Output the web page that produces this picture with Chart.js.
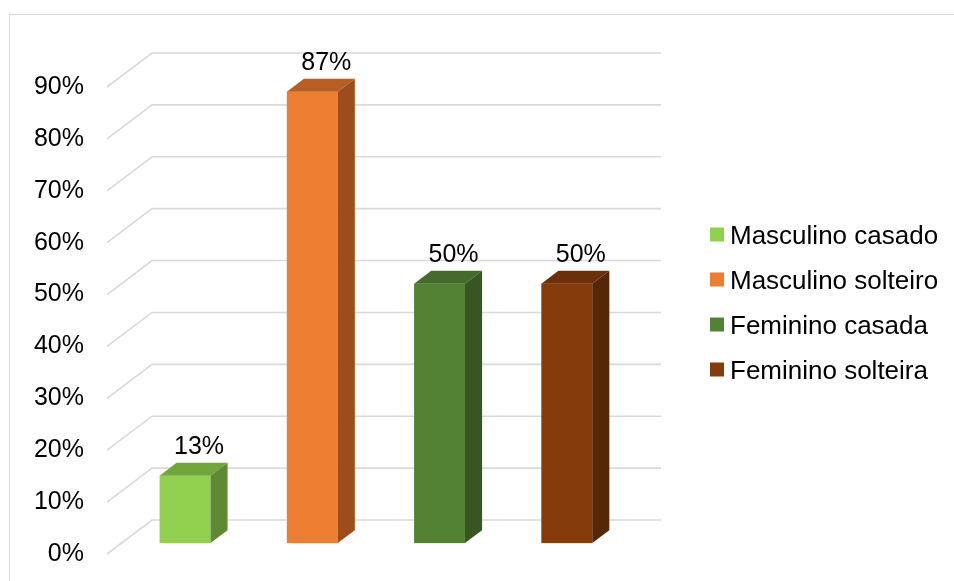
<!DOCTYPE html>
<html>
<head>
<meta charset="utf-8">
<script src="https://cdn.jsdelivr.net/npm/chart.js@4.4.1/dist/chart.umd.min.js"></script>
<style>
  html, body { margin: 0; padding: 0; background: #ffffff; }
  #wrap { position: relative; width: 954px; height: 581px; }
</style>
</head>
<body>
<div id="wrap"><canvas id="chart"></canvas></div>
<script>
// Categories and their shares
const categories = ['Masculino casado', 'Masculino solteiro', 'Feminino casada', 'Feminino solteira'];
const shares = [0.13, 0.87, 0.50, 0.50];
const tickValues = [0, 0.1, 0.2, 0.3, 0.4, 0.5, 0.6, 0.7, 0.8, 0.9];

// Face colours for each bar
const frontColors = ['#92D050', '#ED7D31', '#548235', '#843C0C'];
const topColors   = ['#71A63D', '#B75E22', '#446B2B', '#6B300A'];
const sideColors  = ['#5F8A33', '#9D4D1B', '#375623', '#552708'];

const FONT = '"Liberation Sans", Arial, Helvetica, sans-serif';
const WALL_DX = 45, WALL_DY = 34;      // depth of the floor / back wall
const BAR_FRONT = 0.32, BAR_DEPTH = 0.38; // bar position inside that depth

const pct = v => Math.round(v * 100) + '%';

const frame = {
  id: 'frame',
  beforeDraw(chart) {
    const ctx = chart.ctx;
    ctx.save();
    ctx.fillStyle = '#ffffff';
    ctx.fillRect(0, 0, chart.width, chart.height);
    ctx.strokeStyle = '#d9d9d9';
    ctx.lineWidth = 1;
    ctx.strokeRect(9.5, 14.5, chart.width + 20, chart.height + 20);
    ctx.restore();
  }
};

// Floor diagonals and back-wall gridlines
const wall = {
  id: 'wall',
  beforeDatasetsDraw(chart) {
    const ctx = chart.ctx, ys = chart.scales.y, area = chart.chartArea;
    ctx.save();
    ctx.strokeStyle = '#d9d9d9';
    ctx.lineWidth = 1.6;
    ys.ticks.forEach(t => {
      const y = ys.getPixelForValue(t.value);
      ctx.beginPath();
      ctx.moveTo(area.left, y);
      ctx.lineTo(area.left + WALL_DX, y - WALL_DY);
      ctx.lineTo(area.right + WALL_DX, y - WALL_DY);
      ctx.stroke();
    });
    ctx.restore();
  }
};

// Boxes for the bars plus their value labels
const boxes = {
  id: 'boxes',
  afterDatasetsDraw(chart) {
    const ctx = chart.ctx;
    const meta = chart.getDatasetMeta(0);
    const ox = WALL_DX * BAR_FRONT, oy = -WALL_DY * BAR_FRONT;
    const dx = WALL_DX * BAR_DEPTH, dy = -WALL_DY * BAR_DEPTH;
    ctx.save();
    meta.data.forEach((el, i) => {
      const p = el.getProps(['x', 'y', 'base', 'width'], true);
      const x0 = p.x - p.width / 2 + ox, x1 = x0 + p.width;
      const yt = p.y + oy, yb = p.base + oy;
      // front
      ctx.fillStyle = frontColors[i];
      ctx.fillRect(x0, yt, p.width, yb - yt);
      // top
      ctx.fillStyle = topColors[i];
      ctx.beginPath();
      ctx.moveTo(x0, yt); ctx.lineTo(x0 + dx, yt + dy);
      ctx.lineTo(x1 + dx, yt + dy); ctx.lineTo(x1, yt);
      ctx.closePath(); ctx.fill();
      // side
      ctx.fillStyle = sideColors[i];
      ctx.beginPath();
      ctx.moveTo(x1, yt); ctx.lineTo(x1 + dx, yt + dy);
      ctx.lineTo(x1 + dx, yb + dy); ctx.lineTo(x1, yb);
      ctx.closePath(); ctx.fill();
      // value label
      ctx.fillStyle = '#000000';
      ctx.font = '25px ' + FONT;
      ctx.textAlign = 'center';
      ctx.textBaseline = 'alphabetic';
      ctx.fillText(pct(shares[i]), p.x + ox + 14, yt + dy - 9);
    });
    ctx.restore();
  }
};

// Legend on the right
const sideLegend = {
  id: 'sideLegend',
  afterDraw(chart) {
    const ctx = chart.ctx;
    ctx.save();
    ctx.font = '26px ' + FONT;
    ctx.textAlign = 'left';
    ctx.textBaseline = 'alphabetic';
    chart.data.labels.forEach((lab, i) => {
      const cy = 234.5 + i * 45;
      ctx.fillStyle = frontColors[i];
      ctx.fillRect(710, cy - 7, 14, 14);
      ctx.fillStyle = '#000000';
      ctx.fillText(lab, 730, cy + 9);
    });
    ctx.restore();
  }
};

new Chart(document.getElementById('chart'), {
  type: 'bar',
  data: {
    labels: categories,
    datasets: [{
      data: shares,
      backgroundColor: 'rgba(0,0,0,0)',
      borderWidth: 0,
      categoryPercentage: 1,
      barPercentage: 0.4
    }]
  },
  options: {
    responsive: true,
    maintainAspectRatio: false,
    animation: false,
    events: [],
    layout: { padding: { left: 10, right: 338, top: 87, bottom: 27 } },
    plugins: { legend: { display: false }, tooltip: { enabled: false } },
    scales: {
      x: { display: false },
      y: {
        min: 0, max: 0.9,
        afterBuildTicks(scale) { scale.ticks = tickValues.map(v => ({ value: v })); },
        afterFit(scale) { scale.width = 97; },
        grid: { display: false, drawTicks: false },
        border: { display: false },
        ticks: {
          padding: 23,
          color: '#000000',
          font: { family: FONT, size: 25, lineHeight: 0.3 },
          callback: v => pct(v)
        }
      }
    }
  },
  plugins: [frame, wall, boxes, sideLegend]
});
</script>
</body>
</html>
